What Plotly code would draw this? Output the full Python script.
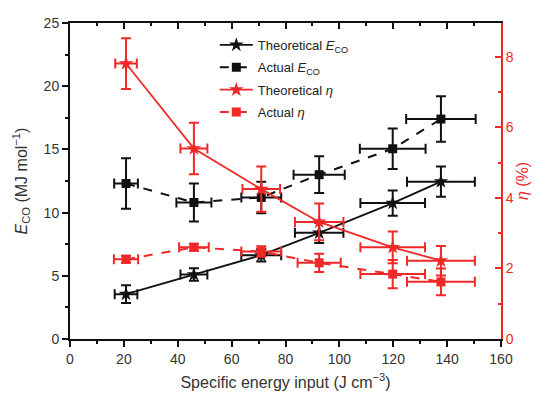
import plotly.graph_objects as go

# Specific energy input (J cm^-3)
sei = [20.8, 46.0, 71.0, 92.5, 119.8, 137.7]

# Energy cost of CO (MJ mol^-1)
e_co_theory = [3.55, 5.1, 6.63, 8.4, 10.75, 12.45]
e_co_theory_err = [0.7, 0.5, 0.5, 0.8, 1.0, 1.2]
e_co_theory_xerr = [4.2, 5.0, 7.4, 9.0, 12.0, 12.6]

e_co_actual = [12.3, 10.8, 11.2, 13.0, 15.05, 17.4]
e_co_actual_err = [2.0, 1.5, 1.25, 1.45, 1.6, 1.8]
e_co_actual_xerr = [4.4, 6.5, 7.4, 9.5, 12.2, 12.9]

# Energy efficiency (%)
eta_theory = [7.81, 5.4, 4.25, 3.32, 2.6, 2.22]
eta_theory_err = [0.72, 0.73, 0.64, 0.52, 0.45, 0.42]
eta_theory_xerr = [4.0, 5.0, 7.0, 9.0, 12.0, 12.6]

eta_actual = [2.26, 2.6, 2.48, 2.16, 1.84, 1.62]
eta_actual_err = [0.1, 0.1, 0.15, 0.26, 0.4, 0.38]
eta_actual_xerr = [4.5, 5.5, 7.4, 8.0, 12.0, 12.6]

BLACK = "#111111"
RED = "#f02828"
FONT = "Liberation Sans, Arial, sans-serif"


def err(vals, color):
    return dict(type="data", array=vals, visible=True, color=color,
                thickness=2, width=5)


fig = go.Figure()

fig.add_trace(go.Scatter(
    x=sei, y=e_co_theory, name="Theoretical <i>E</i><sub>CO</sub>",
    legendgroup="a", mode="lines+markers", line=dict(color=BLACK, width=1.8),
    marker=dict(symbol="star", size=11, color=BLACK),
    error_y=err(e_co_theory_err, BLACK), error_x=err(e_co_theory_xerr, BLACK),
))
fig.add_trace(go.Scatter(
    x=sei, y=e_co_actual, name="Actual <i>E</i><sub>CO</sub>",
    legendgroup="b", mode="lines+markers",
    line=dict(color=BLACK, width=2, dash="dash"),
    marker=dict(symbol="square", size=9, color=BLACK),
    error_y=err(e_co_actual_err, BLACK), error_x=err(e_co_actual_xerr, BLACK),
))
fig.add_trace(go.Scatter(
    x=sei, y=eta_theory, name="Theoretical <i>η</i>", yaxis="y2",
    legendgroup="c", mode="lines+markers", line=dict(color=RED, width=1.8),
    marker=dict(symbol="star", size=11, color=RED),
    error_y=err(eta_theory_err, RED), error_x=err(eta_theory_xerr, RED),
))
fig.add_trace(go.Scatter(
    x=sei, y=eta_actual, name="Actual <i>η</i>", yaxis="y2",
    legendgroup="d", mode="lines+markers",
    line=dict(color=RED, width=2, dash="dash"),
    marker=dict(symbol="square", size=9, color=RED),
    error_y=err(eta_actual_err, RED), error_x=err(eta_actual_xerr, RED),
))
# empty trace so the mirrored top axis gets drawn
fig.add_trace(go.Scatter(x=[None], y=[None], xaxis="x2", showlegend=False,
                         hoverinfo="skip"))

fig.update_layout(
    width=547, height=393,
    margin=dict(l=70, r=46, t=23, b=54, autoexpand=False),
    paper_bgcolor="white", plot_bgcolor="white",
    font=dict(family=FONT, size=14, color="#333333"),
    showlegend=True,
    legend=dict(x=0.336, y=0.978, xanchor="left", yanchor="top",
                bgcolor="rgba(0,0,0,0)", font=dict(size=13, color="#222222"),
                traceorder="grouped", tracegroupgap=2.5, itemwidth=33),
    xaxis=dict(
        range=[0, 160], dtick=20, tick0=0, showgrid=False, zeroline=False,
        automargin=False,
        showline=True, linecolor=BLACK, linewidth=2,
        ticks="outside", ticklen=6, tickwidth=1.5, tickcolor=BLACK,
        minor=dict(dtick=10, ticks="outside", ticklen=3, tickwidth=1.5,
                   tickcolor=BLACK),
        title=dict(text="Specific energy input (J cm<sup>−3</sup>)",
                   font=dict(size=16, color="#333333"), standoff=11),
    ),
    xaxis2=dict(
        range=[0, 160], dtick=20, tick0=0, overlaying="x", side="top",
        showgrid=False, zeroline=False, showticklabels=False, automargin=False,
        showline=True, linecolor=BLACK, linewidth=2,
        ticks="inside", ticklen=6, tickwidth=1.5, tickcolor=BLACK,
        minor=dict(dtick=10, ticks="inside", ticklen=3, tickwidth=1.5,
                   tickcolor=BLACK),
    ),
    yaxis=dict(
        range=[0, 25], dtick=5, tick0=0, showgrid=False, zeroline=False,
        automargin=False,
        showline=True, linecolor=BLACK, linewidth=2,
        ticks="outside", ticklen=6, tickwidth=1.5, tickcolor=BLACK,
        minor=dict(dtick=2.5, ticks="outside", ticklen=3, tickwidth=1.5,
                   tickcolor=BLACK),
        title=dict(text="<i>E</i><sub>CO</sub> (MJ mol<sup>−1</sup>)",
                   font=dict(size=16, color="#333333"), standoff=12),
    ),
    yaxis2=dict(
        range=[0, 8.96], dtick=2, tick0=0, overlaying="y", side="right",
        showgrid=False, zeroline=False, automargin=False,
        showline=True, linecolor=RED, linewidth=2,
        ticks="inside", ticklen=6, tickwidth=1.5, tickcolor=RED,
        minor=dict(dtick=1, ticks="inside", ticklen=3, tickwidth=1.5,
                   tickcolor=RED),
        tickfont=dict(color=RED, size=14),
        title=dict(text="<i>η</i> (%)", font=dict(size=16, color=RED),
                   standoff=4),
    ),
)

fig.write_html("out.html")
